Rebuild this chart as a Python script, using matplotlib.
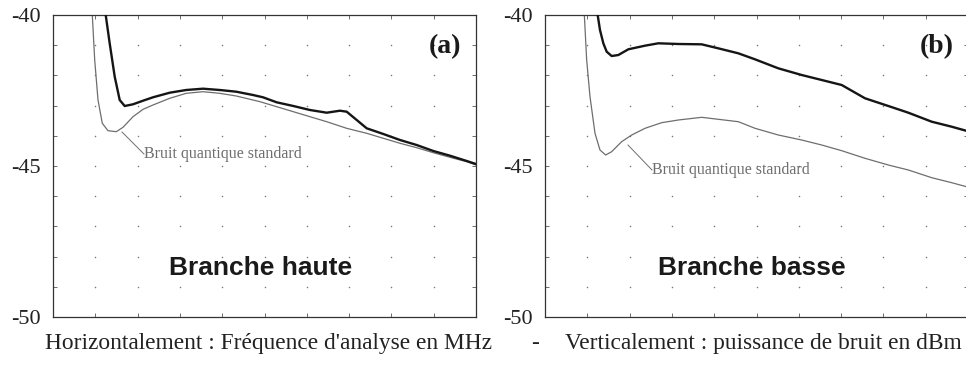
import numpy as np
import matplotlib
matplotlib.use('Agg')
import matplotlib.pyplot as plt

plt.rcParams['font.family'] = ['Liberation Serif', 'DejaVu Serif']

# axe horizontal en divisions (10 divisions), vertical en dBm
x_haute_signal = [1.21, 1.246, 1.340, 1.459, 1.577, 1.695, 1.891, 2.128, 2.364, 2.759, 3.151, 3.546,
                  3.941, 4.333, 4.728, 4.965, 5.288, 5.681, 6.076, 6.470, 6.785, 6.943, 7.180, 7.416,
                  7.809, 8.203, 8.598, 8.991, 9.385, 9.780, 10.0]
y_haute_signal = [-39.5, -40.0, -40.937, -42.043, -42.815, -43.013, -42.957, -42.838, -42.725, -42.573,
                  -42.483, -42.440, -42.483, -42.540, -42.649, -42.725, -42.891, -43.013, -43.146,
                  -43.235, -43.169, -43.202, -43.477, -43.752, -43.940, -44.139, -44.305, -44.503,
                  -44.659, -44.834, -44.934]

x_haute_sqz = [0.90, 0.929, 0.986, 1.064, 1.165, 1.300, 1.496, 1.655, 1.891, 2.128, 2.364, 2.759, 3.151,
               3.546, 3.941, 4.333, 4.728, 4.894, 5.288, 5.681, 6.076, 6.470, 6.943, 7.416, 7.809,
               8.203, 8.598, 8.991, 9.385, 9.780, 10.0]
y_haute_sqz = [-39.5, -40.0, -41.490, -42.815, -43.586, -43.831, -43.864, -43.719, -43.368, -43.123,
               -42.980, -42.758, -42.593, -42.540, -42.593, -42.682, -42.815, -42.871, -43.036,
               -43.202, -43.368, -43.533, -43.752, -43.917, -44.083, -44.248, -44.394, -44.560,
               -44.712, -44.858, -44.967]

x_basse_signal = [1.22, 1.245, 1.300, 1.379, 1.458, 1.576, 1.734, 1.970, 2.364, 2.679, 3.152, 3.704,
                  4.098, 4.571, 4.965, 5.516, 6.068, 6.541, 7.014, 7.565, 8.116, 8.589, 9.142,
                  9.615, 10.0]
y_basse_signal = [-39.7, -40.0, -40.497, -40.937, -41.215, -41.358, -41.325, -41.136, -41.016, -40.937,
                  -40.960, -40.971, -41.104, -41.269, -41.468, -41.766, -41.987, -42.152, -42.318,
                  -42.758, -43.013, -43.235, -43.533, -43.699, -43.85]

x_basse_sqz = [0.90, 0.930, 0.985, 1.064, 1.182, 1.300, 1.434, 1.576, 1.812, 2.049, 2.364, 2.758, 3.152,
               3.704, 4.098, 4.571, 4.965, 5.516, 6.068, 6.541, 7.014, 7.565, 8.116, 8.589, 9.142,
               9.615, 10.0]
y_basse_sqz = [-39.5, -40.0, -41.490, -42.705, -43.917, -44.470, -44.636, -44.526, -44.195, -43.974,
               -43.752, -43.566, -43.477, -43.388, -43.454, -43.533, -43.752, -43.974, -44.139,
               -44.305, -44.493, -44.745, -44.967, -45.132, -45.387, -45.553, -45.70]

y_ticks = list(range(-50, -39))
y_labels = ['-50', '', '', '', '', '-45', '', '', '', '', '-40']
x_ticks = list(range(0, 11))

panels = [
    dict(pos=[53 / 966, 49 / 366, 423 / 966, 302 / 366],
         xs=x_haute_signal, ys=y_haute_signal, xq=x_haute_sqz, yq=y_haute_sqz,
         tag='(a)', name='Branche haute',
         ann=((1.631, -43.874), (2.151, -44.603))),
    dict(pos=[545 / 966, 49 / 366, 423 / 966, 302 / 366],
         xs=x_basse_signal, ys=y_basse_signal, xq=x_basse_sqz, yq=y_basse_sqz,
         tag='(b)', name='Branche basse',
         ann=((1.962, -44.305), (2.529, -45.132))),
]

fig = plt.figure(figsize=(9.66, 3.66), dpi=100)

for p in panels:
    ax = fig.add_axes(p['pos'])
    ax.set_xlim(0, 10)
    ax.set_ylim(-50, -40)

    # grille en pointillés : un point à chaque intersection
    gx, gy = np.meshgrid(x_ticks[1:-1], y_ticks[1:-1])
    ax.scatter(gx.ravel(), gy.ravel(), s=1.2, color='#777777', linewidths=0, zorder=1)

    ax.plot(p['xq'], p['yq'], color='#6e6e6e', lw=0.9, zorder=2)
    ax.plot(p['xs'], p['ys'], color='#151515', lw=1.7, zorder=3)

    (x0, y0), (x1, y1) = p['ann']
    ax.plot([x0, x1], [y0, y1], color='#6e6e6e', lw=0.7)
    ax.text(x1 + 0.01, y1, 'Bruit quantique standard', color='#6e6e6e', fontsize=11.5,
            ha='left', va='center')

    ax.text(9.27, -41.05, p['tag'], fontsize=20, fontweight='bold', ha='center', va='center',
            color='#1a1a1a')
    ax.text(4.9, -48.38, p['name'], fontsize=19, fontweight='bold', ha='center', va='center',
            family=['Liberation Sans', 'DejaVu Sans'], color='#1a1a1a')

    ax.set_xticks(x_ticks)
    ax.set_xticklabels([])
    ax.set_yticks(y_ticks)
    ax.set_yticklabels(y_labels, fontsize=16, color='#222222')
    ax.tick_params(direction='in', length=3, width=0.6, color='#555555', pad=9,
                   top=True, right=True)
    for s in ax.spines.values():
        s.set_color('#333333')
        s.set_linewidth(0.9)

fig.text(45 / 966, 1 - 343 / 366, "Horizontalement : Fréquence d'analyse en MHz",
         fontsize=16.8, ha='left', va='center', color='#222222')
fig.text(535 / 966, 1 - 343 / 366, '-', fontsize=16.8, ha='center', va='center', color='#222222')
fig.text(565 / 966, 1 - 343 / 366, 'Verticalement : puissance de bruit en dBm',
         fontsize=16.8, ha='left', va='center', color='#222222')

fig.savefig('out.png', dpi=100)
